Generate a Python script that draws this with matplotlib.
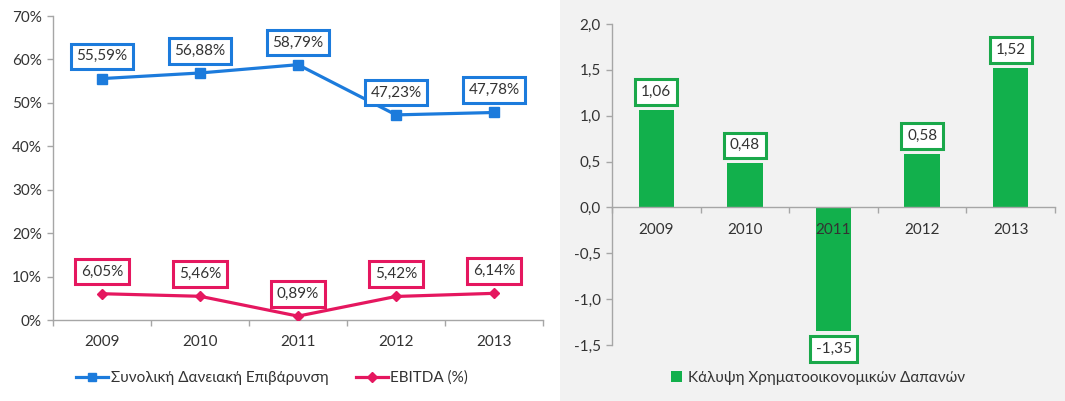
import matplotlib
matplotlib.use("Agg")
import matplotlib.pyplot as plt
from matplotlib.patches import Rectangle
from matplotlib.lines import Line2D
from matplotlib.patches import Patch

plt.rcParams['font.family'] = ['Lato', 'Open Sans', 'DejaVu Sans']

# ---- data ----
years = ['2009', '2010', '2011', '2012', '2013']
debt_burden = [55.59, 56.88, 58.79, 47.23, 47.78]      # Συνολική Δανειακή Επιβάρυνση (%)
ebitda = [6.05, 5.46, 0.89, 5.42, 6.14]                # EBITDA (%)
coverage = [1.06, 0.48, -1.35, 0.58, 1.52]             # Κάλυψη Χρηματοοικονομικών Δαπανών
left_yticks = [0, 10, 20, 30, 40, 50, 60, 70]
right_yticks = [-1.5, -1.0, -0.5, 0.0, 0.5, 1.0, 1.5, 2.0]

label_debt = 'Συνολική Δανειακή Επιβάρυνση'
label_ebitda = 'EBITDA (%)'
label_cov = 'Κάλυψη Χρηματοοικονομικών Δαπανών'

BLUE = '#1c7bdc'
PINK = '#e5175f'
GREEN = '#12b04c'
GREEN_EDGE = '#1aa84a'
TXT = '#333333'
AXC = '#a6a6a6'
FS = 11

W, H = 1065, 401
fig = plt.figure(figsize=(W / 100, H / 100), dpi=100)
fig.patch.set_facecolor('white')
fig.patches.append(Rectangle((560 / W, 0), 1 - 560 / W, 1, transform=fig.transFigure,
                             facecolor='#f2f2f2', edgecolor='none', zorder=-10))

def px_axes(l, r, top, bottom):
    return [l / W, 1 - bottom / H, (r - l) / W, (bottom - top) / H]

def fmt(v, pct=False):
    s = f"{v:.2f}".replace('.', ',')
    return s + ('%' if pct else '')

def style_axes(ax):
    for s in ['top', 'right']:
        ax.spines[s].set_visible(False)
    for s in ['left', 'bottom']:
        ax.spines[s].set_color(AXC)
        ax.spines[s].set_linewidth(1.0)
    ax.tick_params(axis='both', which='major', colors=AXC, length=4.5, width=1.0,
                   labelcolor=TXT, labelsize=FS)
    n = len(years)
    ax.set_xlim(-0.5, n - 0.5)
    ax.set_xticks([i + 0.5 for i in range(-1, n)])
    ax.set_xticklabels([])
    ax.set_xticks(range(n), minor=True)
    ax.set_xticklabels(years, minor=True)
    ax.tick_params(axis='x', which='minor', length=0, labelsize=FS, labelcolor=TXT, pad=11)
    ax.patch.set_alpha(0)

# ---- left chart ----
ax1 = fig.add_axes(px_axes(53, 543, 16, 320))
x = list(range(len(years)))
ax1.plot(x, debt_burden, color=BLUE, lw=2.3, marker='s', ms=6.5, zorder=3,
         label=label_debt)
ax1.plot(x, ebitda, color=PINK, lw=2.3, marker='D', ms=5.5, zorder=3,
         label=label_ebitda)
ax1.set_ylim(0, 70)
ax1.set_yticks(left_yticks)
ax1.set_yticklabels([f"{t}%" for t in left_yticks])
style_axes(ax1)

for xi, v in zip(x, debt_burden):
    ax1.annotate(fmt(v, True), (xi, v), xytext=(0, 16), textcoords='offset points',
                 ha='center', va='center', fontsize=FS, color=TXT, zorder=5,
                 bbox=dict(boxstyle='square,pad=0.38', fc='white', ec=BLUE, lw=2.2))
for xi, v in zip(x, ebitda):
    ax1.annotate(fmt(v, True), (xi, v), xytext=(0, 16), textcoords='offset points',
                 ha='center', va='center', fontsize=FS, color=TXT, zorder=5,
                 bbox=dict(boxstyle='square,pad=0.38', fc='white', ec=PINK, lw=2.2))

h1 = [Line2D([0], [0], color=BLUE, lw=2.3, marker='s', ms=6),
      Line2D([0], [0], color=PINK, lw=2.3, marker='D', ms=5)]
fig.legend(h1, [label_debt, label_ebitda], loc='center',
           bbox_to_anchor=(272 / W, 1 - 378 / H), ncol=2, frameon=False,
           fontsize=FS, labelcolor=TXT, handlelength=2.1, handletextpad=0.15,
           columnspacing=1.8)

# ---- right chart ----
ax2 = fig.add_axes(px_axes(612, 1055, 24, 345))
ax2.bar(x, coverage, width=0.4, color=GREEN, zorder=1)
ax2.set_ylim(-1.5, 2.0)
ax2.set_yticks(right_yticks)
ax2.set_yticklabels([f"{t:.1f}".replace('.', ',') for t in right_yticks])
style_axes(ax2)
ax2.spines['bottom'].set_position(('data', 0))

for xi, v in zip(x, coverage):
    off = 13 if v >= 0 else -13
    ax2.annotate(fmt(v), (xi, v), xytext=(0, off), textcoords='offset points',
                 ha='center', va='center', fontsize=FS, color=TXT, zorder=5,
                 bbox=dict(boxstyle='square,pad=0.38', fc='white', ec=GREEN_EDGE, lw=2.2))

h2 = [Patch(facecolor=GREEN, edgecolor='none')]
fig.legend(h2, [label_cov], loc='center', bbox_to_anchor=(818 / W, 1 - 378 / H),
           frameon=False, fontsize=FS, labelcolor=TXT, handlelength=0.7,
           handleheight=0.7, handletextpad=0.4)

fig.savefig('out.png', dpi=100)
